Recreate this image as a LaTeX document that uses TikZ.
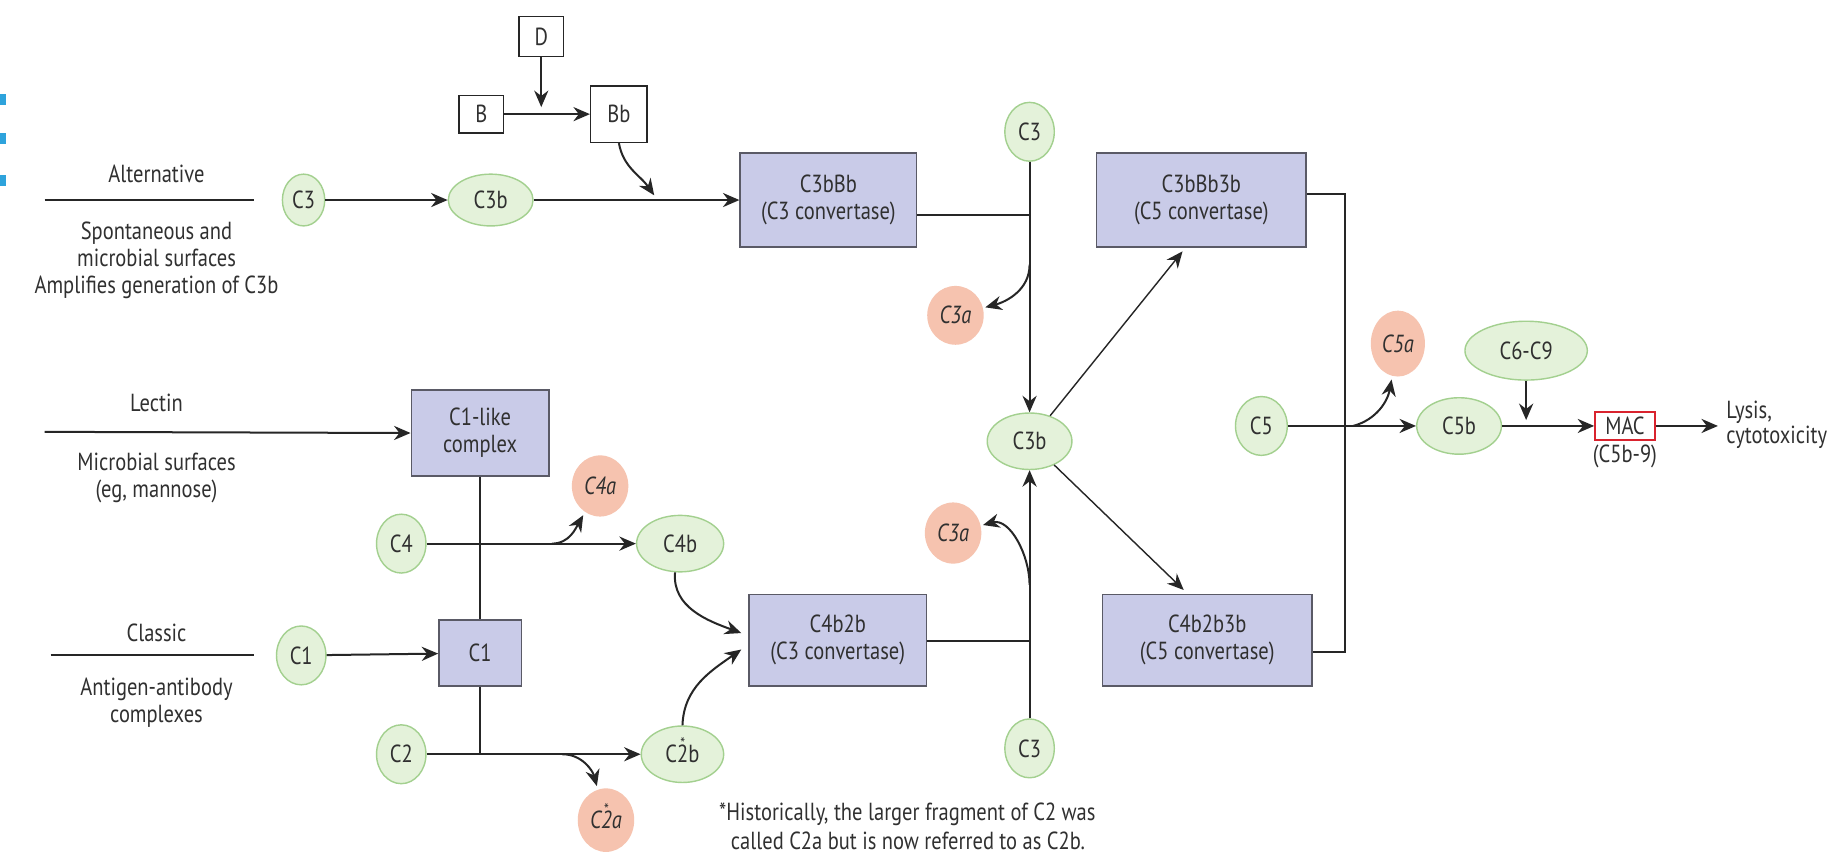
\documentclass[tikz,border=0pt]{standalone}
\usepackage{fontspec}
\setmainfont{PT Sans}[FakeStretch=0.83]
\usetikzlibrary{shapes.geometric,arrows.meta,calc}
\definecolor{txt}{HTML}{303030}
\definecolor{gfill}{HTML}{E4F2DA}
\definecolor{gdraw}{HTML}{A3D08F}
\definecolor{ofill}{HTML}{F6C3AF}
\definecolor{bfill}{HTML}{C9CBE8}
\definecolor{bdraw}{HTML}{5A5A66}
\definecolor{macred}{HTML}{D9232E}
\definecolor{tick}{HTML}{2EA3DC}
\newcommand\startwo{\ooalign{2\cr\hidewidth\raisebox{11.5pt}{\fontsize{14}{14}\selectfont\upshape *}\hidewidth\cr}}
\begin{document}
\begin{tikzpicture}[x=1pt,y=-1pt, font=\fontsize{21}{23}\selectfont, text=txt,
 grn/.style={ellipse, draw=gdraw, fill=gfill, line width=1.2pt, inner sep=0pt},
 org/.style={ellipse, fill=ofill, inner sep=0pt, font=\fontsize{21}{23}\selectfont\itshape},
 cbox/.style={rectangle, draw=bdraw, fill=bfill, line width=1.2pt, inner sep=0pt, align=center, font=\fontsize{21}{23}\selectfont},
 wbox/.style={rectangle, draw=black!85, fill=white, line width=1.3pt, inner sep=0pt},
 ln/.style={line width=1.7pt, draw=black!85},
 thn/.style={line width=1.2pt, draw=black!85},
 arr/.style={ln, -{Stealth[length=14pt,width=12pt]}},
 tarr/.style={thn, -{Stealth[length=14pt,width=12pt]}},
 lbl/.style={align=center, inner sep=0pt, font=\fontsize{21}{23}\selectfont},
]
\useasboundingbox (0,0) rectangle (1568,728);
\fill[white] (0,0) rectangle (1568,728);
% blue edge marks
\fill[tick] (0,80) rectangle (5,89);
\fill[tick] (0,113) rectangle (5,122);
\fill[tick] (0,149) rectangle (5,158);

% ---------- Alternative pathway ----------
\node[wbox, minimum width=38pt, minimum height=34pt] (D) at (460,31) {D};
\node[wbox, minimum width=38pt, minimum height=32pt] (B) at (409,97) {B};
\node[wbox, minimum width=48pt, minimum height=48pt] (Bb) at (526,97) {Bb};
\coordinate (Dend) at (460,91);
\draw[arr] (D) -- (Dend);
\draw[arr] (B) -- (Bb);

\node[lbl] (altT) at (133,148) {Alternative};
\coordinate (altL) at (38,170);
\coordinate (altR) at (216,170);
\draw[ln] (altL) -- (altR);
\node[lbl] (altD) at (133,221) {Spontaneous and\\microbial surfaces\\Amplifies generation of C3b};

\node[grn, minimum width=36pt, minimum height=44pt] (C3alt) at (258,170) {C3};
\node[grn, minimum width=72pt, minimum height=44pt] (C3b1) at (417,170) {C3b};
\node[cbox, minimum width=150pt, minimum height=80pt] (C3Bb) at (704,170) {C3bBb\\(C3 convertase)};
\draw[arr] (C3alt) -- (C3b1);
\draw[arr] (C3b1) -- (C3Bb);
\coordinate (BbJ) at (556,166);
\draw[arr] (Bb.south) to[out=-80,in=125] (BbJ);

\node[grn, minimum width=42pt, minimum height=50pt] (C3t) at (875,112) {C3};
\node[grn, minimum width=72pt, minimum height=48pt] (C3m) at (875,375) {C3b};
\node[org, minimum width=48pt, minimum height=50pt] (C3at) at (812,268) {C3a};
\coordinate (J1) at (875,183);
\coordinate (J2) at (875,225);
\draw[ln] (C3Bb.east |- J1) -- (J1);
\draw[arr] (C3t) -- (C3m);
\draw[arr, shorten >=2pt] (J2) to[out=-90,in=15] (C3at);

\node[cbox, minimum width=178pt, minimum height=80pt] (C5c1) at (1021,170) {C3bBb3b\\(C5 convertase)};
\node[cbox, minimum width=178pt, minimum height=78pt] (C5c2) at (1026,544) {C4b2b3b\\(C5 convertase)};
\draw[tarr] (C3m) -- ([xshift=-16pt,yshift=-3pt]C5c1.south);
\draw[tarr] (C3m) -- ([xshift=-20pt,yshift=3pt]C5c2.north);
\coordinate (R1) at (1143,165);
\coordinate (R2) at (1143,554);
\draw[ln] (C5c1.east |- R1) -- (R1) -- (R2) -- (C5c2.east |- R2);

% ---------- Terminal ----------
\node[grn, minimum width=44pt, minimum height=50pt] (C5) at (1072,362) {C5};
\node[grn, minimum width=72pt, minimum height=48pt] (C5b) at (1240,362) {C5b};
\node[org, minimum width=46pt, minimum height=56pt] (C5a) at (1188,292) {C5a};
\node[grn, minimum width=104pt, minimum height=50pt] (C69) at (1297,298) {C6-C9};
\node[draw=macred, line width=1.4pt, minimum width=51pt, minimum height=24pt, inner sep=0pt] (MAC) at (1381,362) {MAC};
\node[lbl] (C5b9) at (1381,388) {(C5b-9)};
\coordinate (J5) at (1150,362);
\coordinate (C69end) at (1297,357);
\coordinate (lys) at (1460,362);
\draw[arr] (C5) -- (C5b);
\draw[arr, shorten >=3pt] (J5) to[out=15,in=-100] (C5a);
\draw[arr] (C69) -- (C69end);
\draw[arr] (C5b) -- (MAC);
\draw[arr] (MAC) -- (lys);
\node[anchor=west, align=left, inner sep=0pt, font=\fontsize{21}{22}\selectfont] (lysT) at (1467,361) {Lysis,\\cytotoxicity};

% ---------- Lectin ----------
\node[lbl] (lecT) at (133,342) {Lectin};
\coordinate (lecL) at (38,367);
\node[cbox, minimum width=117pt, minimum height=73pt] (C1lk) at (408,368) {C1-like\\complex};
\draw[arr] (lecL) -- (C1lk.west);
\node[lbl] (lecD) at (133,406) {Microbial surfaces\\(eg, mannose)};

\node[grn, minimum width=42pt, minimum height=50pt] (C4) at (341,462) {C4};
\node[grn, minimum width=74pt, minimum height=48pt] (C4b) at (578,462) {C4b};
\node[org, minimum width=48pt, minimum height=52pt] (C4a) at (510,413) {C4a};

% ---------- Classic ----------
\node[lbl] (clT) at (133,538) {Classic};
\coordinate (clL) at (43,557);
\coordinate (clR) at (216,557);
\draw[ln] (clL) -- (clR);
\node[lbl] (clD) at (133,597) {Antigen-antibody\\complexes};
\node[grn, minimum width=42pt, minimum height=50pt] (C1e) at (256,557) {C1};
\node[cbox, minimum width=70pt, minimum height=56pt] (C1box) at (408,555) {C1};
\draw[arr] (C1e) -- (C1box);

\node[grn, minimum width=42pt, minimum height=50pt] (C2) at (341,641) {C2};
\node[grn, minimum width=70pt, minimum height=48pt] (C2b) at (580,641) {C\startwo b};
\node[org, minimum width=48pt, minimum height=54pt] (C2a) at (515,697) {C\startwo a};

\coordinate (J3) at (408,641);
\draw[ln] (C1lk.south) -- (C1box.north);
\draw[ln] (C1box.south) -- (J3);
\draw[arr] (C4) -- (C4b);
\draw[arr] (C2) -- (C2b);
\coordinate (J4) at (469,462);
\draw[arr, shorten >=3pt] (J4) to[out=0,in=-120] (C4a);
\coordinate (J6) at (478,641);
\draw[arr, shorten >=3pt] (J6) to[out=0,in=105] (C2a);

% ---------- C4b2b ----------
\node[cbox, minimum width=151pt, minimum height=78pt] (C4b2b) at (712,544) {C4b2b\\(C3 convertase)};
\coordinate (t1) at (630,538);
\coordinate (t2) at (630,552);
\draw[arr] (C4b.-100) to[out=-95,in=160] (t1);
\draw[arr] (C2b.north) to[out=88,in=-145] (t2);

\node[grn, minimum width=42pt, minimum height=50pt] (C3bot) at (875,636) {C3};
\node[org, minimum width=48pt, minimum height=52pt] (C3ab) at (810,453) {C3a};
\coordinate (J7) at (875,545);
\coordinate (J8) at (875,497);
\draw[ln] (C4b2b.east |- J7) -- (J7);
\draw[arr] (C3bot) -- (C3m);
\draw[arr, shorten >=2pt] (J8) to[out=90,in=15] (C3ab);

% ---------- Footnote ----------
\node[anchor=west, inner sep=0pt] (fn1) at (611,692) {*Historically, the larger fragment of C2 was};
\node[anchor=west, inner sep=0pt] (fn2) at (621,715) {called C2a but is now referred to as C2b.};
\end{tikzpicture}
\end{document}
